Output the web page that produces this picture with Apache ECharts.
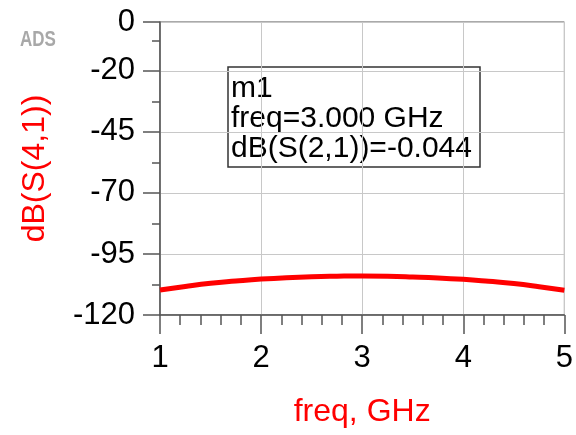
<!DOCTYPE html>
<html>
<head>
<meta charset="utf-8">
<script src="https://cdn.jsdelivr.net/npm/echarts@6/dist/echarts.min.js"></script>
<style>
  html, body { margin: 0; padding: 0; background: #fff; }
  #chart { width: 576px; height: 435px; }
</style>
</head>
<body>
<div id="chart"></div>
<script>
// frequency sweep, GHz
const freqs = [1.0, 1.25, 1.5, 1.75, 2.0, 2.25, 2.5, 2.75, 3.0, 3.25, 3.5, 3.75, 4.0, 4.25, 4.5, 4.75, 5.0];
// dB(S(4,1))
const s41 = [-109.8, -108.3, -107.0, -106.1, -105.3, -104.7, -104.3, -104.1, -104.0, -104.1, -104.4, -104.8, -105.4, -106.2, -107.1, -108.4, -109.9];
const markerLines = ['m1', 'freq=3.000 GHz', 'dB(S(2,1))=-0.044'];

const font = 'Liberation Sans, Arial, sans-serif';
const red = '#ff0000';
const axisGray = '#555';
const gridGray = '#c8c8c8';

const chart = echarts.init(document.getElementById('chart'));
chart.setOption({
    animation: false,
    backgroundColor: '#fff',
    grid: {
        left: 160,
        right: 9,
        top: 22,
        bottom: 120,
        show: true,
        borderColor: axisGray,
        borderWidth: 1
    },
    xAxis: {
        type: 'value',
        min: 1,
        max: 5,
        interval: 1,
        name: 'freq, GHz',
        nameLocation: 'middle',
        nameGap: 81,
        nameTextStyle: { color: red, fontSize: 32, fontFamily: font },
        axisLine: { onZero: false, lineStyle: { color: axisGray, width: 1.5 } },
        axisTick: { length: 19, lineStyle: { color: axisGray, width: 1.5 } },
        minorTick: { show: true, splitNumber: 5, length: 10, lineStyle: { color: axisGray, width: 1.5 } },
        axisLabel: { color: '#000', fontSize: 31, fontFamily: font, margin: 28 },
        splitLine: { show: true, lineStyle: { color: gridGray, width: 1 } }
    },
    yAxis: [{
        type: 'value',
        min: -120,
        max: 0,
        interval: 25,
        name: 'dB(S(4,1))',
        nameLocation: 'middle',
        nameGap: 109,
        nameTextStyle: { color: red, fontSize: 32, fontFamily: font },
        axisLine: { show: true, onZero: false, lineStyle: { color: axisGray, width: 1.5 } },
        axisTick: { show: true, length: 17, lineStyle: { color: axisGray, width: 1.5 } },
        axisLabel: { color: '#000', fontSize: 31, fontFamily: font, margin: 25 },
        splitLine: { show: true, lineStyle: { color: gridGray, width: 1 } }
    }, {
        // minor ticks every 12.5 dB
        type: 'value',
        position: 'left',
        min: -120,
        max: 0,
        interval: 12.5,
        axisLine: { show: false, onZero: false },
        axisTick: { show: true, length: 8, lineStyle: { color: axisGray, width: 1.5 } },
        axisLabel: { show: false },
        splitLine: { show: false }
    }],
    graphic: [
        {
            type: 'text',
            x: 20,
            y: 28,
            scaleY: 1.35,
            style: { text: 'ADS', fill: '#a8a8a8', font: 'bold 17px ' + font }
        },
        {
            type: 'rect',
            shape: { x: 228, y: 67, width: 252, height: 100 },
            style: { fill: 'transparent', stroke: '#333', lineWidth: 1.5 }
        },
        ...markerLines.map((t, i) => ({
            type: 'text',
            x: 231,
            y: 89 + i * 30,
            style: { text: t, fill: '#000', fontSize: 30, fontFamily: font, verticalAlign: 'middle' }
        }))
    ],
    series: [{
        type: 'line',
        yAxisIndex: 0,
        data: freqs.map((f, i) => [f, s41[i]]),
        smooth: true,
        showSymbol: false,
        lineStyle: { color: red, width: 5 }
    }]
});
</script>
</body>
</html>
